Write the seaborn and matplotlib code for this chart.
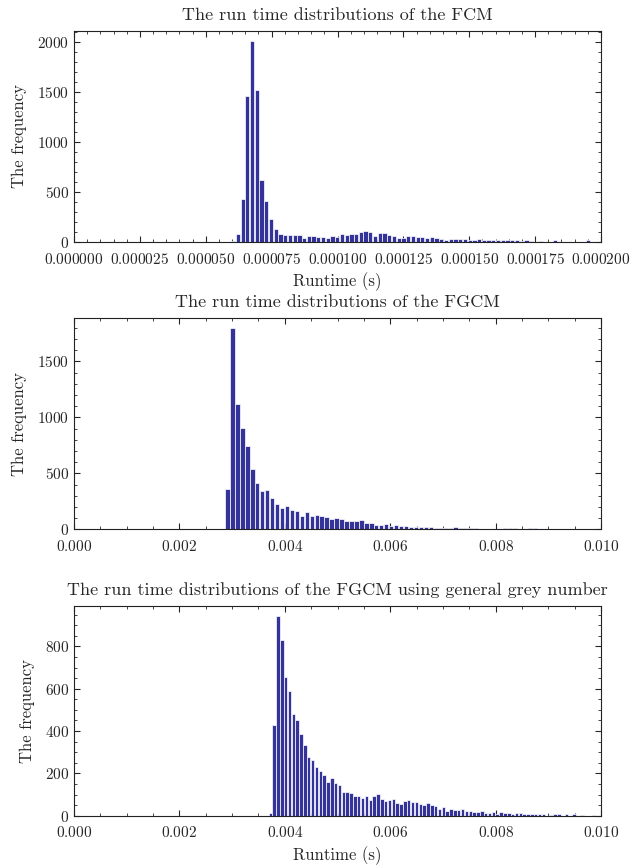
import numpy as np
import pandas as pd
import matplotlib
matplotlib.use("Agg")
import matplotlib.pyplot as plt
import seaborn as sns

# histogram counts, one list per panel
fcm_start = 5.95e-5
fcm_width = 1.795e-6
fcm_counts = [13, 83, 427, 1460, 2007, 1520, 617, 410, 230, 127,
              80, 67, 70, 70, 70, 37, 57, 57, 47, 50,
              37, 57, 50, 83, 67, 80, 83, 100, 110, 100,
              57, 90, 90, 70, 57, 40, 40, 60, 60, 50,
              47, 37, 50, 40, 32, 23, 27, 35, 27, 27,
              17, 17, 27, 23, 17, 17, 17, 17, 17, 17,
              17, 15, 17, 15, 0, 15, 0, 0, 17, 0,
              0, 0, 0, 0, 0, 18]

fgcm_start = 0.002865
fgcm_width = 9.41e-5
fgcm_counts = [363, 1795, 1119, 903, 741, 543, 411, 345, 351, 282,
               228, 192, 210, 174, 165, 120, 156, 120, 129, 120,
               114, 93, 102, 90, 75, 75, 75, 81, 57, 57,
               39, 39, 48, 30, 36, 30, 27, 21, 21, 20,
               22, 17, 12, 14, 9, 9, 17, 9, 9, 9,
               9, 6, 6, 0, 0, 0, 8, 8, 8, 0,
               0, 8, 8, 0, 0, 0, 0, 6, 0, 0,
               0, 0, 0, 0, 6]

ggn_start = 0.003687
ggn_width = 7.3e-5
ggn_counts = [13, 429, 945, 829, 657, 587, 482, 454, 388, 334,
              279, 265, 232, 213, 191, 158, 177, 153, 147, 114,
              114, 106, 95, 95, 82, 93, 76, 95, 104, 79,
              68, 73, 80, 61, 54, 68, 76, 63, 66, 55,
              50, 61, 52, 47, 33, 43, 24, 33, 25, 25,
              33, 24, 24, 19, 19, 22, 11, 11, 19, 9,
              19, 14, 14, 8, 13, 13, 7, 7, 6, 7,
              9, 6, 0, 5, 6, 6, 0, 6, 0, 6,
              0, 5, 0, 0, 5]

titles = ["The run time distributions of the FCM",
          "The run time distributions of the FGCM",
          "The run time distributions of the FGCM using general grey number"]
xlims = [(0, 0.0002), (0, 0.01), (0, 0.01)]
show_xlabel = [True, False, True]

sns.set_style("ticks")
plt.rcParams['font.family'] = ['cmr10', 'DejaVu Serif']
plt.rcParams['axes.formatter.use_mathtext'] = True
plt.rcParams['xtick.direction'] = 'in'
plt.rcParams['ytick.direction'] = 'in'
plt.rcParams['xtick.top'] = True
plt.rcParams['ytick.right'] = True
plt.rcParams['xtick.minor.visible'] = True
plt.rcParams['ytick.minor.visible'] = True
plt.rcParams['xtick.major.size'] = 4
plt.rcParams['ytick.major.size'] = 4
plt.rcParams['xtick.minor.size'] = 2
plt.rcParams['ytick.minor.size'] = 2
plt.rcParams['xtick.major.pad'] = 7
plt.rcParams['axes.edgecolor'] = '#222222'

fig = plt.figure(figsize=(6.3, 8.65), dpi=100)
boxes = [[0.1175, 0.7202, 0.8365, 0.2440],
         [0.1175, 0.3880, 0.8365, 0.2440],
         [0.1175, 0.0570, 0.8365, 0.2428]]

data = [(fcm_start, fcm_width, fcm_counts),
        (fgcm_start, fgcm_width, fgcm_counts),
        (ggn_start, ggn_width, ggn_counts)]

for i, (start, width, counts) in enumerate(data):
    ax = fig.add_axes(boxes[i])
    edges = start + width * np.arange(len(counts) + 1)
    df = pd.DataFrame({"runtime": (edges[:-1] + edges[1:]) / 2,
                       "count": counts})
    sns.histplot(data=df, x="runtime", weights="count", bins=list(edges),
                 ax=ax, color='#333399', alpha=1, edgecolor='white',
                 linewidth=0.5, shrink=0.9)
    ax.set_xlim(*xlims[i])
    ax.set_title(titles[i], fontsize=13, pad=8)
    if show_xlabel[i]:
        ax.set_xlabel("Runtime (s)", fontsize=12, labelpad=4)
    else:
        ax.set_xlabel("")
    ax.set_ylabel("The frequency", fontsize=12, labelpad=7)
    ax.tick_params(labelsize=11)
    if i == 0:
        ax.ticklabel_format(axis='x', style='plain', useOffset=False)

fig.savefig("out.png", dpi=100)
